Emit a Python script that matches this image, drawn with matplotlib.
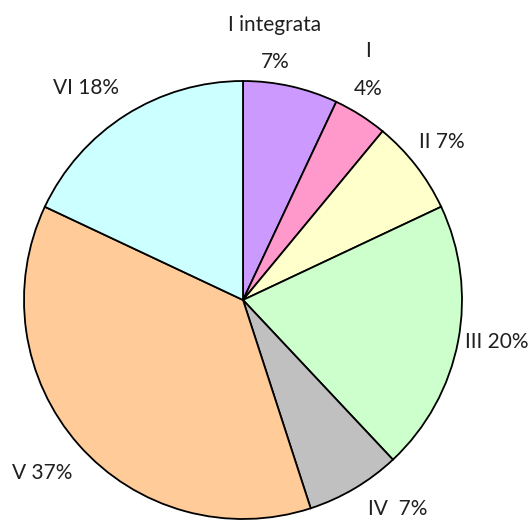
import matplotlib.pyplot as plt

labels = ['I integrata', 'I', 'II', 'III', 'IV', 'V', 'VI']
values = [7, 4, 7, 20, 7, 37, 18]
colors = ['#CC99FF', '#FF99CC', '#FFFFCC', '#CCFFCC', '#C0C0C0', '#FFCC99', '#CCFFFF']

# label text and where it sits (in radius units around the pie centre)
label_text = ['I integrata\n7%', 'I\n4%', 'II 7%', 'III 20%', 'IV  7%', 'V 37%', 'VI 18%']
label_pos = [(0.146, 1.171), (0.571, 1.050), (0.909, 0.721), (1.160, -0.192),
             (0.708, -0.955), (-0.918, -0.790), (-0.717, 0.968)]

fig = plt.figure(figsize=(5.31, 5.21), dpi=100)
ax = fig.add_axes([0, 0, 1, 1])
ax.pie(values, colors=colors, startangle=90, counterclock=False, radius=1,
       wedgeprops=dict(edgecolor='black', linewidth=1.3))
for t, (x, y) in zip(label_text, label_pos):
    ax.text(x, y, t, ha='center', va='center', fontsize=15, family='Lato',
            color='#202020', linespacing=2.1)

ax.set_xlim(-243 / 219, 288 / 219)
ax.set_ylim(-221 / 219, 300 / 219)
ax.set_aspect('auto')
ax.axis('off')
fig.savefig('out.png', dpi=100)
